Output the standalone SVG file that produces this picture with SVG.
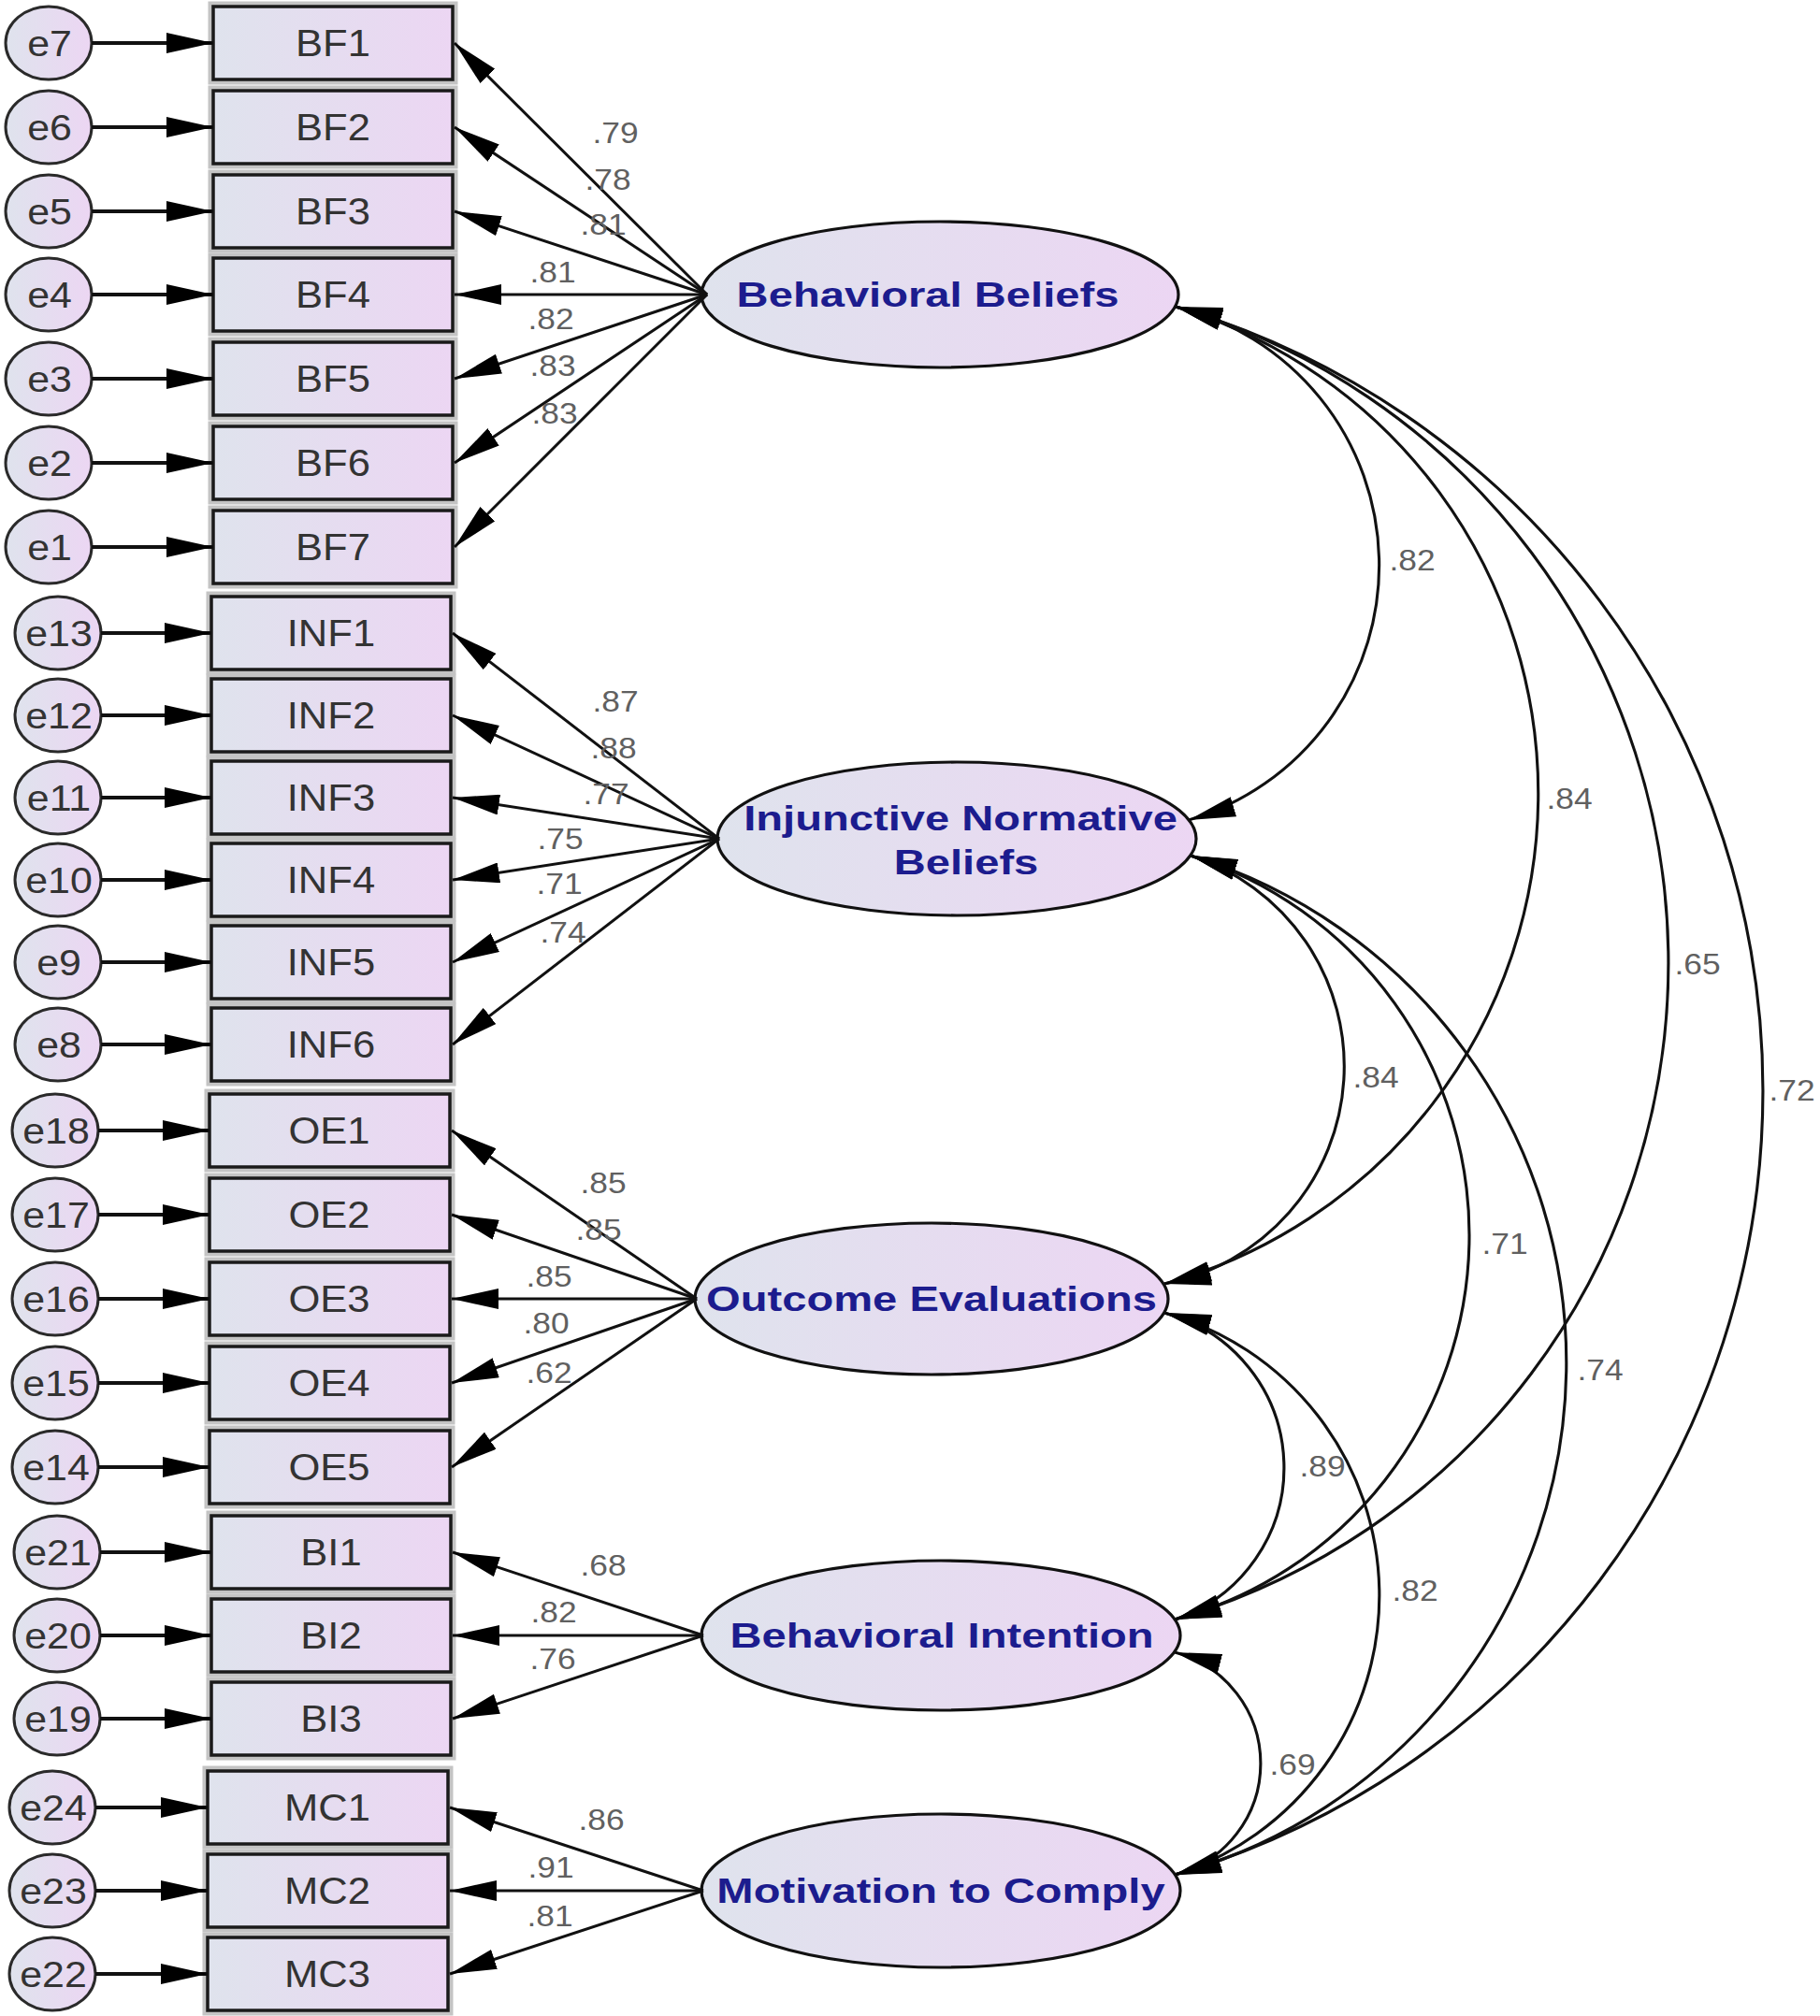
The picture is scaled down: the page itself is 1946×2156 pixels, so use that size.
<svg xmlns="http://www.w3.org/2000/svg" width="1946" height="2156" viewBox="0 0 1946 2156">
<defs>
<linearGradient id="gFill" x1="0" y1="0" x2="1" y2="0">
<stop offset="0" stop-color="#dfe3ed"/>
<stop offset="1" stop-color="#ecd6f3"/>
</linearGradient>
<marker id="ah" viewBox="0 0 50 22" markerUnits="userSpaceOnUse" markerWidth="50" markerHeight="22" refX="50" refY="11" orient="auto-start-reverse">
<path d="M0,0 L50,11 L0,22 z" fill="#000"/>
</marker>
<style>
.halo{fill:none;stroke:#c4c4c4;stroke-width:11}
.box{fill:url(#gFill);stroke:#1a1a1a;stroke-width:3.5}
.err{fill:url(#gFill);stroke:#2a2a2a;stroke-width:3}
.lat{fill:url(#gFill);stroke:#111;stroke-width:3.2}
.earr{fill:none;stroke:#111;stroke-width:4;marker-end:url(#ah)}
.load{fill:none;stroke:#111;stroke-width:3;marker-end:url(#ah)}
.cov{fill:none;stroke:#111;stroke-width:3.1;marker-start:url(#ah);marker-end:url(#ah)}
.tb{font-family:"Liberation Sans",Arial,sans-serif;font-size:40px;fill:#333;text-anchor:middle}
.te{font-family:"Liberation Sans",Arial,sans-serif;font-size:39px;fill:#333;text-anchor:middle}
.tn{font-family:"Liberation Sans",Arial,sans-serif;font-size:31px;fill:#606060;text-anchor:middle}
.tl{font-family:"Liberation Sans",Arial,sans-serif;font-size:36px;font-weight:bold;fill:#1c1c8e;text-anchor:middle}
</style>
</defs>
<rect x="0" y="0" width="1946" height="2156" fill="#fff"/>

<!-- Behavioral Beliefs indicators -->
<g id="BF1"><rect class="halo" x="228" y="7" width="256" height="78"/><rect class="box" x="228" y="7" width="256" height="78"/><text class="tb" transform="translate(356,60) scale(1.09,1)">BF1</text></g>
<g id="BF2"><rect class="halo" x="228" y="97" width="256" height="78"/><rect class="box" x="228" y="97" width="256" height="78"/><text class="tb" transform="translate(356,150) scale(1.09,1)">BF2</text></g>
<g id="BF3"><rect class="halo" x="228" y="187" width="256" height="78"/><rect class="box" x="228" y="187" width="256" height="78"/><text class="tb" transform="translate(356,240) scale(1.09,1)">BF3</text></g>
<g id="BF4"><rect class="halo" x="228" y="276" width="256" height="78"/><rect class="box" x="228" y="276" width="256" height="78"/><text class="tb" transform="translate(356,329) scale(1.09,1)">BF4</text></g>
<g id="BF5"><rect class="halo" x="228" y="366" width="256" height="78"/><rect class="box" x="228" y="366" width="256" height="78"/><text class="tb" transform="translate(356,419) scale(1.09,1)">BF5</text></g>
<g id="BF6"><rect class="halo" x="228" y="456" width="256" height="78"/><rect class="box" x="228" y="456" width="256" height="78"/><text class="tb" transform="translate(356,509) scale(1.09,1)">BF6</text></g>
<g id="BF7"><rect class="halo" x="228" y="546" width="256" height="78"/><rect class="box" x="228" y="546" width="256" height="78"/><text class="tb" transform="translate(356,599) scale(1.09,1)">BF7</text></g>

<g id="e7"><ellipse class="err" cx="52" cy="46" rx="46" ry="39"/><text class="te" transform="translate(53,60) scale(1.1,1)">e7</text></g>
<g id="e6"><ellipse class="err" cx="52" cy="136" rx="46" ry="39"/><text class="te" transform="translate(53,150) scale(1.1,1)">e6</text></g>
<g id="e5"><ellipse class="err" cx="52" cy="226" rx="46" ry="39"/><text class="te" transform="translate(53,240) scale(1.1,1)">e5</text></g>
<g id="e4"><ellipse class="err" cx="52" cy="315" rx="46" ry="39"/><text class="te" transform="translate(53,329) scale(1.1,1)">e4</text></g>
<g id="e3"><ellipse class="err" cx="52" cy="405" rx="46" ry="39"/><text class="te" transform="translate(53,419) scale(1.1,1)">e3</text></g>
<g id="e2"><ellipse class="err" cx="52" cy="495" rx="46" ry="39"/><text class="te" transform="translate(53,509) scale(1.1,1)">e2</text></g>
<g id="e1"><ellipse class="err" cx="52" cy="585" rx="46" ry="39"/><text class="te" transform="translate(53,599) scale(1.1,1)">e1</text></g>

<!-- Injunctive Normative Beliefs indicators -->
<g id="INF1"><rect class="halo" x="226" y="638" width="256" height="78"/><rect class="box" x="226" y="638" width="256" height="78"/><text class="tb" transform="translate(354,691) scale(1.09,1)">INF1</text></g>
<g id="INF2"><rect class="halo" x="226" y="726" width="256" height="78"/><rect class="box" x="226" y="726" width="256" height="78"/><text class="tb" transform="translate(354,779) scale(1.09,1)">INF2</text></g>
<g id="INF3"><rect class="halo" x="226" y="814" width="256" height="78"/><rect class="box" x="226" y="814" width="256" height="78"/><text class="tb" transform="translate(354,867) scale(1.09,1)">INF3</text></g>
<g id="INF4"><rect class="halo" x="226" y="902" width="256" height="78"/><rect class="box" x="226" y="902" width="256" height="78"/><text class="tb" transform="translate(354,955) scale(1.09,1)">INF4</text></g>
<g id="INF5"><rect class="halo" x="226" y="990" width="256" height="78"/><rect class="box" x="226" y="990" width="256" height="78"/><text class="tb" transform="translate(354,1043) scale(1.09,1)">INF5</text></g>
<g id="INF6"><rect class="halo" x="226" y="1078" width="256" height="78"/><rect class="box" x="226" y="1078" width="256" height="78"/><text class="tb" transform="translate(354,1131) scale(1.09,1)">INF6</text></g>

<g id="e13"><ellipse class="err" cx="62" cy="677" rx="46" ry="39"/><text class="te" transform="translate(63,691) scale(1.1,1)">e13</text></g>
<g id="e12"><ellipse class="err" cx="62" cy="765" rx="46" ry="39"/><text class="te" transform="translate(63,779) scale(1.1,1)">e12</text></g>
<g id="e11"><ellipse class="err" cx="62" cy="853" rx="46" ry="39"/><text class="te" transform="translate(63,867) scale(1.1,1)">e11</text></g>
<g id="e10"><ellipse class="err" cx="62" cy="941" rx="46" ry="39"/><text class="te" transform="translate(63,955) scale(1.1,1)">e10</text></g>
<g id="e9"><ellipse class="err" cx="62" cy="1029" rx="46" ry="39"/><text class="te" transform="translate(63,1043) scale(1.1,1)">e9</text></g>
<g id="e8"><ellipse class="err" cx="62" cy="1117" rx="46" ry="39"/><text class="te" transform="translate(63,1131) scale(1.1,1)">e8</text></g>

<!-- Outcome Evaluations indicators -->
<g id="OE1"><rect class="halo" x="224" y="1170" width="257" height="78"/><rect class="box" x="224" y="1170" width="257" height="78"/><text class="tb" transform="translate(352,1223) scale(1.09,1)">OE1</text></g>
<g id="OE2"><rect class="halo" x="224" y="1260" width="257" height="78"/><rect class="box" x="224" y="1260" width="257" height="78"/><text class="tb" transform="translate(352,1313) scale(1.09,1)">OE2</text></g>
<g id="OE3"><rect class="halo" x="224" y="1350" width="257" height="78"/><rect class="box" x="224" y="1350" width="257" height="78"/><text class="tb" transform="translate(352,1403) scale(1.09,1)">OE3</text></g>
<g id="OE4"><rect class="halo" x="224" y="1440" width="257" height="78"/><rect class="box" x="224" y="1440" width="257" height="78"/><text class="tb" transform="translate(352,1493) scale(1.09,1)">OE4</text></g>
<g id="OE5"><rect class="halo" x="224" y="1530" width="257" height="78"/><rect class="box" x="224" y="1530" width="257" height="78"/><text class="tb" transform="translate(352,1583) scale(1.09,1)">OE5</text></g>

<g id="e18"><ellipse class="err" cx="59" cy="1209" rx="46" ry="39"/><text class="te" transform="translate(60,1223) scale(1.1,1)">e18</text></g>
<g id="e17"><ellipse class="err" cx="59" cy="1299" rx="46" ry="39"/><text class="te" transform="translate(60,1313) scale(1.1,1)">e17</text></g>
<g id="e16"><ellipse class="err" cx="59" cy="1389" rx="46" ry="39"/><text class="te" transform="translate(60,1403) scale(1.1,1)">e16</text></g>
<g id="e15"><ellipse class="err" cx="59" cy="1479" rx="46" ry="39"/><text class="te" transform="translate(60,1493) scale(1.1,1)">e15</text></g>
<g id="e14"><ellipse class="err" cx="59" cy="1569" rx="46" ry="39"/><text class="te" transform="translate(60,1583) scale(1.1,1)">e14</text></g>

<!-- Behavioral Intention indicators -->
<g id="BI1"><rect class="halo" x="226" y="1621" width="256" height="78"/><rect class="box" x="226" y="1621" width="256" height="78"/><text class="tb" transform="translate(354,1674) scale(1.09,1)">BI1</text></g>
<g id="BI2"><rect class="halo" x="226" y="1710" width="256" height="78"/><rect class="box" x="226" y="1710" width="256" height="78"/><text class="tb" transform="translate(354,1763) scale(1.09,1)">BI2</text></g>
<g id="BI3"><rect class="halo" x="226" y="1799" width="256" height="78"/><rect class="box" x="226" y="1799" width="256" height="78"/><text class="tb" transform="translate(354,1852) scale(1.09,1)">BI3</text></g>

<g id="e21"><ellipse class="err" cx="61" cy="1660" rx="46" ry="39"/><text class="te" transform="translate(62,1674) scale(1.1,1)">e21</text></g>
<g id="e20"><ellipse class="err" cx="61" cy="1749" rx="46" ry="39"/><text class="te" transform="translate(62,1763) scale(1.1,1)">e20</text></g>
<g id="e19"><ellipse class="err" cx="61" cy="1838" rx="46" ry="39"/><text class="te" transform="translate(62,1852) scale(1.1,1)">e19</text></g>

<!-- Motivation to Comply indicators -->
<g id="MC1"><rect class="halo" x="222" y="1894" width="257" height="78"/><rect class="box" x="222" y="1894" width="257" height="78"/><text class="tb" transform="translate(350,1947) scale(1.09,1)">MC1</text></g>
<g id="MC2"><rect class="halo" x="222" y="1983" width="257" height="78"/><rect class="box" x="222" y="1983" width="257" height="78"/><text class="tb" transform="translate(350,2036) scale(1.09,1)">MC2</text></g>
<g id="MC3"><rect class="halo" x="222" y="2072" width="257" height="78"/><rect class="box" x="222" y="2072" width="257" height="78"/><text class="tb" transform="translate(350,2125) scale(1.09,1)">MC3</text></g>

<g id="e24"><ellipse class="err" cx="56" cy="1933" rx="46" ry="39"/><text class="te" transform="translate(57,1947) scale(1.1,1)">e24</text></g>
<g id="e23"><ellipse class="err" cx="56" cy="2022" rx="46" ry="39"/><text class="te" transform="translate(57,2036) scale(1.1,1)">e23</text></g>
<g id="e22"><ellipse class="err" cx="56" cy="2111" rx="46" ry="39"/><text class="te" transform="translate(57,2125) scale(1.1,1)">e22</text></g>

<!-- Latent variables -->
<g id="BehavioralBeliefs"><ellipse class="lat" cx="1005" cy="315" rx="255" ry="78"/><text class="tl" transform="translate(992,328) scale(1.31,1)">Behavioral Beliefs</text></g>
<g id="InjunctiveNormativeBeliefs"><ellipse class="lat" cx="1023" cy="897" rx="256" ry="82"/><text class="tl" transform="translate(1027,888) scale(1.31,1)">Injunctive Normative</text><text class="tl" transform="translate(1033,935) scale(1.31,1)">Beliefs</text></g>
<g id="OutcomeEvaluations"><ellipse class="lat" cx="996" cy="1389" rx="253" ry="81"/><text class="tl" transform="translate(996,1402) scale(1.31,1)">Outcome Evaluations</text></g>
<g id="BehavioralIntention"><ellipse class="lat" cx="1006" cy="1749" rx="256" ry="80"/><text class="tl" transform="translate(1007,1762) scale(1.31,1)">Behavioral Intention</text></g>
<g id="MotivationToComply"><ellipse class="lat" cx="1006" cy="2022" rx="256" ry="82"/><text class="tl" transform="translate(1006,2035) scale(1.31,1)">Motivation to Comply</text></g>

<!-- Connectors -->
<g id="connectors">
<!-- error arrows -->
<path class="earr" d="M98,46 H228"/>
<path class="earr" d="M98,136 H228"/>
<path class="earr" d="M98,226 H228"/>
<path class="earr" d="M98,315 H228"/>
<path class="earr" d="M98,405 H228"/>
<path class="earr" d="M98,495 H228"/>
<path class="earr" d="M98,585 H228"/>
<path class="earr" d="M108,677 H226"/>
<path class="earr" d="M108,765 H226"/>
<path class="earr" d="M108,853 H226"/>
<path class="earr" d="M108,941 H226"/>
<path class="earr" d="M108,1029 H226"/>
<path class="earr" d="M108,1117 H226"/>
<path class="earr" d="M105,1209 H224"/>
<path class="earr" d="M105,1299 H224"/>
<path class="earr" d="M105,1389 H224"/>
<path class="earr" d="M105,1479 H224"/>
<path class="earr" d="M105,1569 H224"/>
<path class="earr" d="M107,1660 H226"/>
<path class="earr" d="M107,1749 H226"/>
<path class="earr" d="M107,1838 H226"/>
<path class="earr" d="M102,1933 H222"/>
<path class="earr" d="M102,2022 H222"/>
<path class="earr" d="M102,2111 H222"/>
<!-- loadings -->
<path class="load" d="M756,315 L486,46"/>
<path class="load" d="M756,315 L486,136"/>
<path class="load" d="M756,315 L486,226"/>
<path class="load" d="M756,315 L486,315"/>
<path class="load" d="M756,315 L486,405"/>
<path class="load" d="M756,315 L486,495"/>
<path class="load" d="M756,315 L486,585"/>
<path class="load" d="M769,897 L484,677"/>
<path class="load" d="M769,897 L484,765"/>
<path class="load" d="M769,897 L484,853"/>
<path class="load" d="M769,897 L484,941"/>
<path class="load" d="M769,897 L484,1029"/>
<path class="load" d="M769,897 L484,1117"/>
<path class="load" d="M745,1389 L483,1209"/>
<path class="load" d="M745,1389 L483,1299"/>
<path class="load" d="M745,1389 L483,1389"/>
<path class="load" d="M745,1389 L483,1479"/>
<path class="load" d="M745,1389 L483,1569"/>
<path class="load" d="M752,1749 L484,1660"/>
<path class="load" d="M752,1749 L484,1749"/>
<path class="load" d="M752,1749 L484,1838"/>
<path class="load" d="M752,2022 L481,1933"/>
<path class="load" d="M752,2022 L481,2022"/>
<path class="load" d="M752,2022 L481,2111"/>
<!-- covariances -->
<path class="cov" d="M1257,328 A284.3,284.3 0 0 1 1271,877"/>
<path class="cov" d="M1257,328 A543.6,543.6 0 0 1 1245,1373"/>
<path class="cov" d="M1257,328 A730.9,730.9 0 0 1 1256,1732"/>
<path class="cov" d="M1257,328 A873.6,873.6 0 0 1 1256,2005"/>
<path class="cov" d="M1273,915 A236.8,236.8 0 0 1 1245,1373"/>
<path class="cov" d="M1273,915 A425.6,425.6 0 0 1 1256,1732"/>
<path class="cov" d="M1273,915 A567.2,567.2 0 0 1 1256,2005"/>
<path class="cov" d="M1245,1404 A171.2,171.2 0 0 1 1256,1732"/>
<path class="cov" d="M1245,1404 A313.5,313.5 0 0 1 1256,2005"/>
<path class="cov" d="M1256,1767 A123,123 0 0 1 1256,2005"/>
</g>

<!-- Connector labels -->
<g id="connector-labels">
<text class="tn" transform="translate(658,153) scale(1.14,1)">.79</text>
<text class="tn" transform="translate(650,203) scale(1.14,1)">.78</text>
<text class="tn" transform="translate(645,251) scale(1.14,1)">.81</text>
<text class="tn" transform="translate(591,302) scale(1.14,1)">.81</text>
<text class="tn" transform="translate(589,352) scale(1.14,1)">.82</text>
<text class="tn" transform="translate(591,402) scale(1.14,1)">.83</text>
<text class="tn" transform="translate(593,453) scale(1.14,1)">.83</text>
<text class="tn" transform="translate(658,761) scale(1.14,1)">.87</text>
<text class="tn" transform="translate(656,811) scale(1.14,1)">.88</text>
<text class="tn" transform="translate(648,860) scale(1.14,1)">.77</text>
<text class="tn" transform="translate(599,908) scale(1.14,1)">.75</text>
<text class="tn" transform="translate(598,956) scale(1.14,1)">.71</text>
<text class="tn" transform="translate(602,1008) scale(1.14,1)">.74</text>
<text class="tn" transform="translate(645,1276) scale(1.14,1)">.85</text>
<text class="tn" transform="translate(640,1326) scale(1.14,1)">.85</text>
<text class="tn" transform="translate(587,1376) scale(1.14,1)">.85</text>
<text class="tn" transform="translate(584,1426) scale(1.14,1)">.80</text>
<text class="tn" transform="translate(587,1479) scale(1.14,1)">.62</text>
<text class="tn" transform="translate(645,1685) scale(1.14,1)">.68</text>
<text class="tn" transform="translate(592,1735) scale(1.14,1)">.82</text>
<text class="tn" transform="translate(591,1785) scale(1.14,1)">.76</text>
<text class="tn" transform="translate(643,1957) scale(1.14,1)">.86</text>
<text class="tn" transform="translate(589,2008) scale(1.14,1)">.91</text>
<text class="tn" transform="translate(588,2060) scale(1.14,1)">.81</text>
<text class="tn" transform="translate(1510,610) scale(1.14,1)">.82</text>
<text class="tn" transform="translate(1678,865) scale(1.14,1)">.84</text>
<text class="tn" transform="translate(1815,1042) scale(1.14,1)">.65</text>
<text class="tn" transform="translate(1916,1177) scale(1.14,1)">.72</text>
<text class="tn" transform="translate(1471,1163) scale(1.14,1)">.84</text>
<text class="tn" transform="translate(1609,1341) scale(1.14,1)">.71</text>
<text class="tn" transform="translate(1711,1476) scale(1.14,1)">.74</text>
<text class="tn" transform="translate(1414,1579) scale(1.14,1)">.89</text>
<text class="tn" transform="translate(1513,1712) scale(1.14,1)">.82</text>
<text class="tn" transform="translate(1382,1898) scale(1.14,1)">.69</text>
</g>
</svg>
